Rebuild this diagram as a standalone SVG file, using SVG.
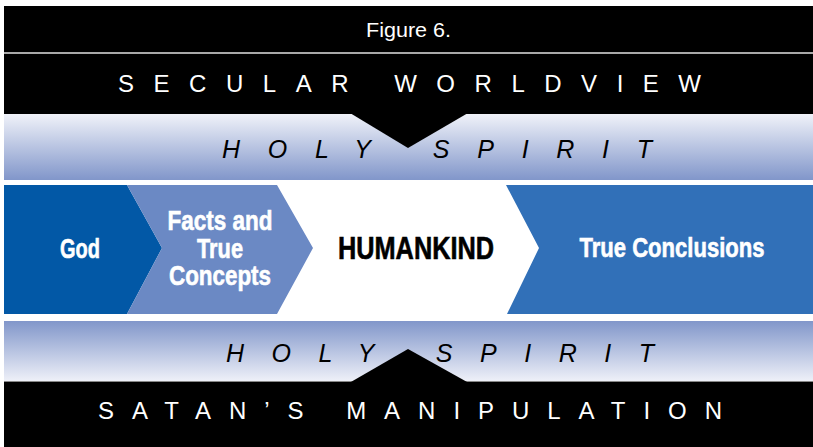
<svg xmlns="http://www.w3.org/2000/svg" width="813" height="447" viewBox="0 0 813 447">
<defs>
<linearGradient id="gTop" x1="0" y1="0" x2="0" y2="1">
<stop offset="0" stop-color="#F0F2F9"/>
<stop offset="1" stop-color="#8196CA"/>
</linearGradient>
<linearGradient id="gBot" x1="0" y1="0" x2="0" y2="1">
<stop offset="0" stop-color="#8196CA"/>
<stop offset="1" stop-color="#F0F2F9"/>
</linearGradient>
<style>
.cap{font-family:"Liberation Sans",Arial,sans-serif;fill:#fff;font-size:24px}
.hs{font-family:"Liberation Sans",Arial,sans-serif;fill:#000;font-size:25px;font-style:italic}
.nd{font-family:"Liberation Sans",Arial,sans-serif;font-weight:bold;font-size:28px;fill:#fff;stroke:#fff;stroke-width:0.6;text-anchor:middle}
</style>
</defs>
<rect width="813" height="447" fill="#fff"/>
<g id="header">
<rect x="4" y="6" width="809" height="108" fill="#000"/>
<rect x="4" y="52" width="809" height="2" fill="#A8A8A8"/>
<text x="366" y="37" class="cap" textLength="85" lengthAdjust="spacingAndGlyphs" style="font-size:20px">Figure 6.</text>
<text x="118" y="92" class="cap" textLength="583" lengthAdjust="spacing">SECULAR WORLDVIEW</text>
</g>
<g id="holy-spirit-top">
<rect x="4" y="114" width="809" height="66" fill="url(#gTop)"/>
<polygon points="350,113 468,113 408,148" fill="#000"/>
<text x="222" y="158" class="hs" textLength="430" lengthAdjust="spacing">HOLY SPIRIT</text>
</g>
<g id="god">
<polygon points="4,185 127,185 162,248 127,314 4,314" fill="#0258A6"/>
<text x="80" y="258" class="nd" textLength="40" lengthAdjust="spacingAndGlyphs">God</text>
</g>
<g id="facts">
<polygon points="127,185 277,185 313,248 277,314 127,314 162,248" fill="#6B89C4"/>
<text class="nd"><tspan x="220" y="230" textLength="105" lengthAdjust="spacingAndGlyphs">Facts and</tspan><tspan x="220" y="258" textLength="46" lengthAdjust="spacingAndGlyphs">True</tspan><tspan x="220" y="285" textLength="102" lengthAdjust="spacingAndGlyphs">Concepts</tspan></text>
</g>
<g id="humankind">
<text x="416" y="259" class="nd" style="fill:#000;stroke:#000;font-size:31px" textLength="156" lengthAdjust="spacingAndGlyphs">HUMANKIND</text>
</g>
<g id="conclusions">
<polygon points="506,185 813,185 813,314 507,314 539,248" fill="#3170B8"/>
<text x="672" y="257" class="nd" textLength="185" lengthAdjust="spacingAndGlyphs">True Conclusions</text>
</g>
<g id="holy-spirit-bottom">
<rect x="4" y="321" width="809" height="61" fill="url(#gBot)"/>
<text x="226" y="362" class="hs" textLength="428" lengthAdjust="spacing">HOLY SPIRIT</text>
</g>
<g id="footer">
<rect x="4" y="382" width="809" height="65" fill="#000"/>
<rect x="4" y="381" width="809" height="1" fill="#888"/>
<polygon points="350,382.5 468,382.5 408,349" fill="#000"/>
<text x="98" y="419" class="cap" textLength="624" lengthAdjust="spacing">SATAN’S MANIPULATION</text>
</g>
<g id="connectors"></g>
</svg>
